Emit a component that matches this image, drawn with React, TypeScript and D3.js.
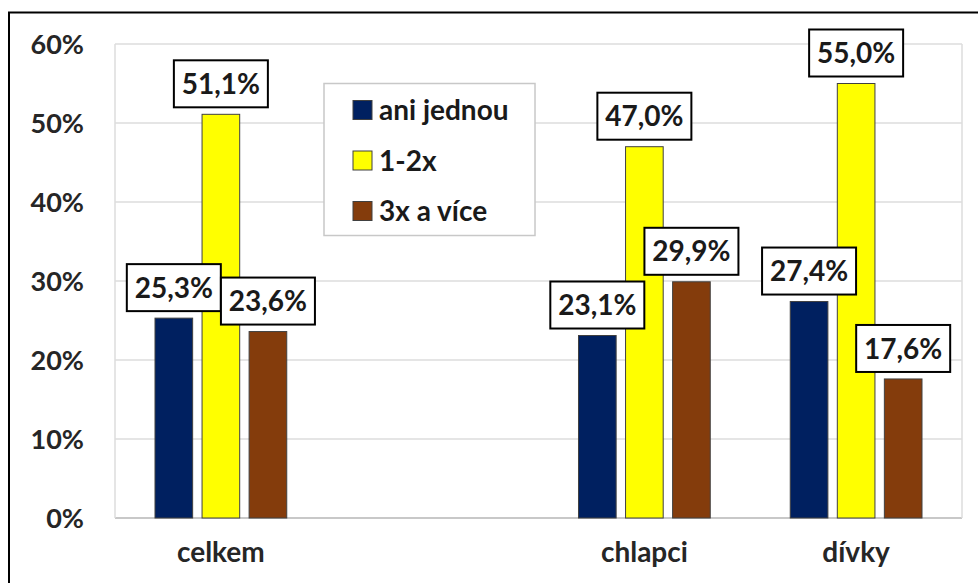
import * as d3 from 'd3';

const width = 978;
const height = 583;
const marginTop = 44;
const marginRight = 16;
const marginBottom = 65;
const marginLeft = 115;

const categories = ['celkem', '', 'chlapci', 'dívky'];
const seriesNames = ['ani jednou', '1-2x', '3x a více'];
const seriesColors = ['#002060', '#ffff00', '#843c0c'];
const aniJednou = [25.3, null, 23.1, 27.4];
const jednouDvakrat = [51.1, null, 47.0, 55.0];
const triAVice = [23.6, null, 29.9, 17.6];
const yTicks = [0, 10, 20, 30, 40, 50, 60];

const seriesValues = [aniJednou, jednouDvakrat, triAVice];
const font = 'Lato, "Open Sans", sans-serif';
const fmt = (v: number) => v.toFixed(1).replace('.', ',') + '%';

export default function App() {
  // kategorie – prázdná pozice drží místo mezi celkem a chlapci
  const x0 = d3
    .scaleBand<number>()
    .domain(d3.range(categories.length))
    .range([marginLeft, width - marginRight]);

  const x1 = d3
    .scaleBand<number>()
    .domain(d3.range(seriesNames.length))
    .range([0, x0.bandwidth()])
    .paddingInner(0.2)
    .paddingOuter(0.85);

  const y = d3
    .scaleLinear()
    .domain([0, 60])
    .range([height - marginBottom, marginTop]);

  const bars = seriesValues.flatMap((vals, s) =>
    vals
      .map((v, c) => ({ v, c, s }))
      .filter((d): d is { v: number; c: number; s: number } => d.v != null)
  );

  const boxW = 94;
  const boxH = 47;

  return (
    <svg
      width={width}
      height={height}
      style={{ position: 'absolute', left: 0, top: 0, background: '#fff' }}
    >
      {/* vnější rámeček */}
      <rect x={9} y={12.5} width={width} height={height} fill="#fff" stroke="#000" strokeWidth={2} />

      {/* mřížka */}
      {yTicks.map((t) => (
        <line
          key={t}
          x1={marginLeft}
          x2={width - marginRight}
          y1={y(t)}
          y2={y(t)}
          stroke={t === 0 ? '#c8c8c8' : '#dcdcdc'}
          strokeWidth={t === 0 ? 2 : 1.5}
        />
      ))}
      <line x1={marginLeft} x2={marginLeft} y1={y(60)} y2={y(0)} stroke="#dcdcdc" strokeWidth={1.5} />
      <line
        x1={width - marginRight}
        x2={width - marginRight}
        y1={y(60)}
        y2={y(0)}
        stroke="#dcdcdc"
        strokeWidth={1.5}
      />

      {/* osa y */}
      {yTicks.map((t) => (
        <text
          key={t}
          x={84}
          y={y(t)}
          dy="0.36em"
          textAnchor="end"
          fontFamily={font}
          fontWeight="bold"
          fontSize={27}
          fill="#262626"
        >
          {t}%
        </text>
      ))}

      {/* osa x */}
      {categories.map((c, i) => (
        <text
          key={i}
          x={(x0(i) ?? 0) + x0.bandwidth() / 2}
          y={y(0) + 44}
          textAnchor="middle"
          fontFamily={font}
          fontWeight="bold"
          fontSize={28}
          fill="#262626"
        >
          {c}
        </text>
      ))}

      {/* sloupce */}
      {bars.map((d) => (
        <rect
          key={`${d.s}-${d.c}`}
          x={(x0(d.c) ?? 0) + (x1(d.s) ?? 0)}
          y={y(d.v)}
          width={x1.bandwidth()}
          height={y(0) - y(d.v)}
          fill={seriesColors[d.s]}
          stroke="#404040"
          strokeWidth={1}
        />
      ))}

      {/* popisky hodnot */}
      {bars.map((d) => {
        const cx = (x0(d.c) ?? 0) + (x1(d.s) ?? 0) + x1.bandwidth() / 2;
        const bottom = y(d.v) - 7;
        return (
          <g key={`l-${d.s}-${d.c}`}>
            <rect
              x={cx - boxW / 2}
              y={bottom - boxH}
              width={boxW}
              height={boxH}
              fill="#fff"
              stroke="#000"
              strokeWidth={2}
            />
            <text
              x={cx}
              y={bottom - boxH / 2}
              dy="0.36em"
              textAnchor="middle"
              fontFamily={font}
              fontWeight="bold"
              fontSize={28}
              fill="#1a1a1a"
            >
              {fmt(d.v)}
            </text>
          </g>
        );
      })}

      {/* legenda */}
      <g transform="translate(324,83.5)">
        <rect width={211} height={152} fill="#fff" stroke="#c8c8c8" strokeWidth={1.5} />
        {seriesNames.map((n, i) => (
          <g key={n} transform={`translate(29,${26.5 + i * 50.5})`}>
            <rect x={0} y={-9.5} width={19} height={19} fill={seriesColors[i]} stroke="#404040" strokeWidth={1} />
            <text
              x={26}
              y={0}
              dy="0.36em"
              fontFamily={font}
              fontWeight="bold"
              fontSize={28}
              fill="#1a1a1a"
            >
              {n}
            </text>
          </g>
        ))}
      </g>
    </svg>
  );
}
